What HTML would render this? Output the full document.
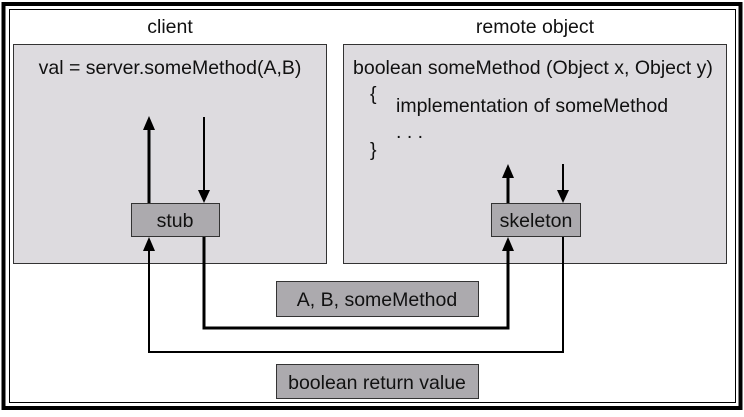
<!DOCTYPE html>
<html><head><style>
body{margin:0;background:#fff;}
svg text{font-family:"Liberation Sans",Arial,sans-serif;font-size:19.5px;fill:#111;}
</style></head><body>
<svg width="744" height="412" viewBox="0 0 744 412" xmlns="http://www.w3.org/2000/svg">
<rect x="3.5" y="4" width="737" height="404" fill="none" stroke="#000" stroke-width="4"/>
<rect x="9.5" y="9.5" width="726" height="393" fill="none" stroke="#000" stroke-width="1"/>
<text x="170" y="33" text-anchor="middle">client</text>
<text x="535" y="33" text-anchor="middle">remote object</text>
<rect x="13.5" y="44.5" width="313" height="219" fill="#dddbdf" stroke="#333" stroke-width="1"/>
<rect x="343.5" y="44.5" width="383" height="219" fill="#dddbdf" stroke="#333" stroke-width="1"/>
<text x="170" y="74" text-anchor="middle">val = server.someMethod(A,B)</text>
<text x="353" y="74">boolean someMethod (Object x, Object y)</text>
<text x="370" y="100">{</text>
<text x="396" y="112">implementation of someMethod</text>
<text x="396" y="138">. . .</text>
<text x="370" y="156">}</text>
<line x1="149" y1="203" x2="149" y2="126" stroke="#000" stroke-width="3"/>
<polygon points="143,130 155,130 149,116" fill="#000"/>
<line x1="204" y1="117" x2="204" y2="192" stroke="#000" stroke-width="2"/>
<polygon points="198,190 210,190 204,203" fill="#000"/>
<line x1="508" y1="203" x2="508" y2="175" stroke="#000" stroke-width="3"/>
<polygon points="502,178 514,178 508,164" fill="#000"/>
<line x1="563" y1="164" x2="563" y2="192" stroke="#000" stroke-width="2"/>
<polygon points="557,190 569,190 563,203" fill="#000"/>
<rect x="131.5" y="203.5" width="88" height="33" fill="#acaaae" stroke="#333"/>
<text x="175" y="227" text-anchor="middle">stub</text>
<rect x="491.5" y="203.5" width="89" height="33" fill="#acaaae" stroke="#333"/>
<text x="536" y="227" text-anchor="middle">skeleton</text>
<polyline points="204,237 204,328 508,328 508,248" fill="none" stroke="#000" stroke-width="3"/>
<polygon points="502,251 514,251 508,237" fill="#000"/>
<polyline points="563,237 563,352 149,352 149,248" fill="none" stroke="#000" stroke-width="2"/>
<polygon points="143,251 155,251 149,237" fill="#000"/>
<rect x="276.5" y="281.5" width="202" height="35" fill="#acaaae" stroke="#333"/>
<text x="377" y="306" text-anchor="middle">A, B, someMethod</text>
<rect x="276.5" y="364.5" width="202" height="34" fill="#acaaae" stroke="#333"/>
<text x="377" y="389" text-anchor="middle">boolean return value</text>
</svg>
</body></html>
